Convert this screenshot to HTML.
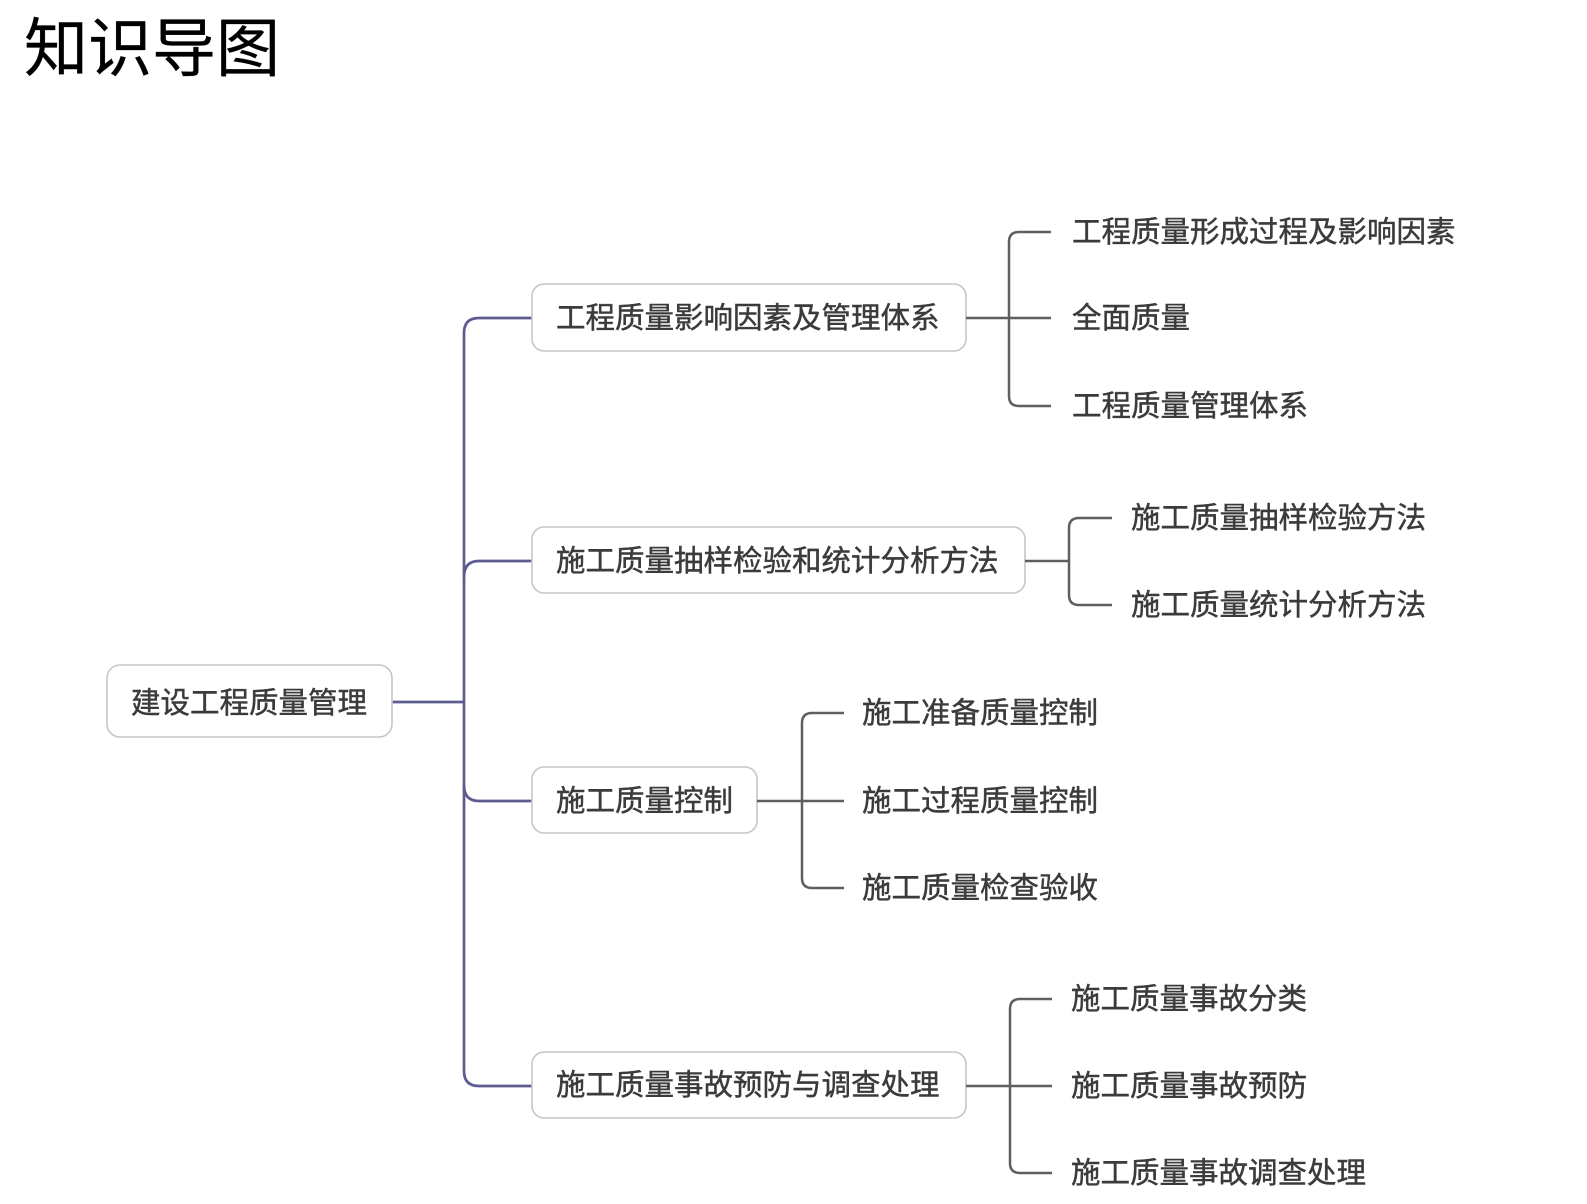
<!DOCTYPE html>
<html>
<head>
<meta charset="utf-8">
<style>
html,body{margin:0;padding:0;background:#fff;}
svg{display:block;}
.t{font-family:"Liberation Sans","Noto Sans CJK SC",sans-serif;font-size:29.5px;fill:#3b3b3b;stroke:#3b3b3b;stroke-width:0.45px;}
.title{font-family:"Liberation Sans","Noto Sans CJK SC",sans-serif;font-size:64px;fill:#000;stroke:#000;stroke-width:0.3px;}
.box{fill:#fff;stroke:#c6c6c6;stroke-width:1.6;}
.trunk{fill:none;stroke:#5d5b8f;stroke-width:2.7;}
.br{fill:none;stroke:#5f5f5f;stroke-width:2.5;}
</style>
</head>
<body>
<svg width="1587" height="1204" viewBox="0 0 1587 1204" xmlns="http://www.w3.org/2000/svg">
<text class="title" x="24" y="71">知识导图</text>

<!-- trunk connectors -->
<path class="trunk" d="M392 702 L464 702"/>
<path class="trunk" d="M532 318 L479 318 Q464 318 464 333 L464 1071 Q464 1086 479 1086 L532 1086"/>
<path class="trunk" d="M464 577 Q464 561 479 561 L532 561"/>
<path class="trunk" d="M464 785 Q464 801 479 801 L532 801"/>

<!-- boxes -->
<rect class="box" x="107" y="665" width="285" height="72" rx="13"/>
<rect class="box" x="532" y="284" width="434" height="67" rx="12"/>
<rect class="box" x="532" y="527" width="493" height="66" rx="12"/>
<rect class="box" x="532" y="767" width="225" height="66" rx="12"/>
<rect class="box" x="532" y="1052" width="434" height="66" rx="12"/>

<text class="t" x="131" y="713">建设工程质量管理</text>
<text class="t" x="556" y="328">工程质量影响因素及管理体系</text>
<text class="t" x="556" y="571">施工质量抽样检验和统计分析方法</text>
<text class="t" x="556" y="811">施工质量控制</text>
<text class="t" x="556" y="1095">施工质量事故预防与调查处理</text>

<!-- group 1 -->
<path class="br" d="M966 318 L1051 318"/>
<path class="br" d="M1051 232 L1019 232 Q1009 232 1009 242 L1009 396 Q1009 406 1019 406 L1051 406"/>
<text class="t" x="1072" y="242">工程质量形成过程及影响因素</text>
<text class="t" x="1072" y="328">全面质量</text>
<text class="t" x="1072" y="416">工程质量管理体系</text>

<!-- group 2 -->
<path class="br" d="M1025 561 L1069 561"/>
<path class="br" d="M1112 518 L1079 518 Q1069 518 1069 528 L1069 595 Q1069 605 1079 605 L1112 605"/>
<text class="t" x="1131" y="528">施工质量抽样检验方法</text>
<text class="t" x="1131" y="615">施工质量统计分析方法</text>

<!-- group 3 -->
<path class="br" d="M757 801 L844 801"/>
<path class="br" d="M844 713 L812 713 Q802 713 802 723 L802 878 Q802 888 812 888 L844 888"/>
<text class="t" x="862" y="723">施工准备质量控制</text>
<text class="t" x="862" y="811">施工过程质量控制</text>
<text class="t" x="862" y="898">施工质量检查验收</text>

<!-- group 4 -->
<path class="br" d="M966 1086 L1052 1086"/>
<path class="br" d="M1052 999 L1020 999 Q1010 999 1010 1009 L1010 1163 Q1010 1173 1020 1173 L1052 1173"/>
<text class="t" x="1071" y="1009">施工质量事故分类</text>
<text class="t" x="1071" y="1096">施工质量事故预防</text>
<text class="t" x="1071" y="1183">施工质量事故调查处理</text>
</svg>
</body>
</html>
